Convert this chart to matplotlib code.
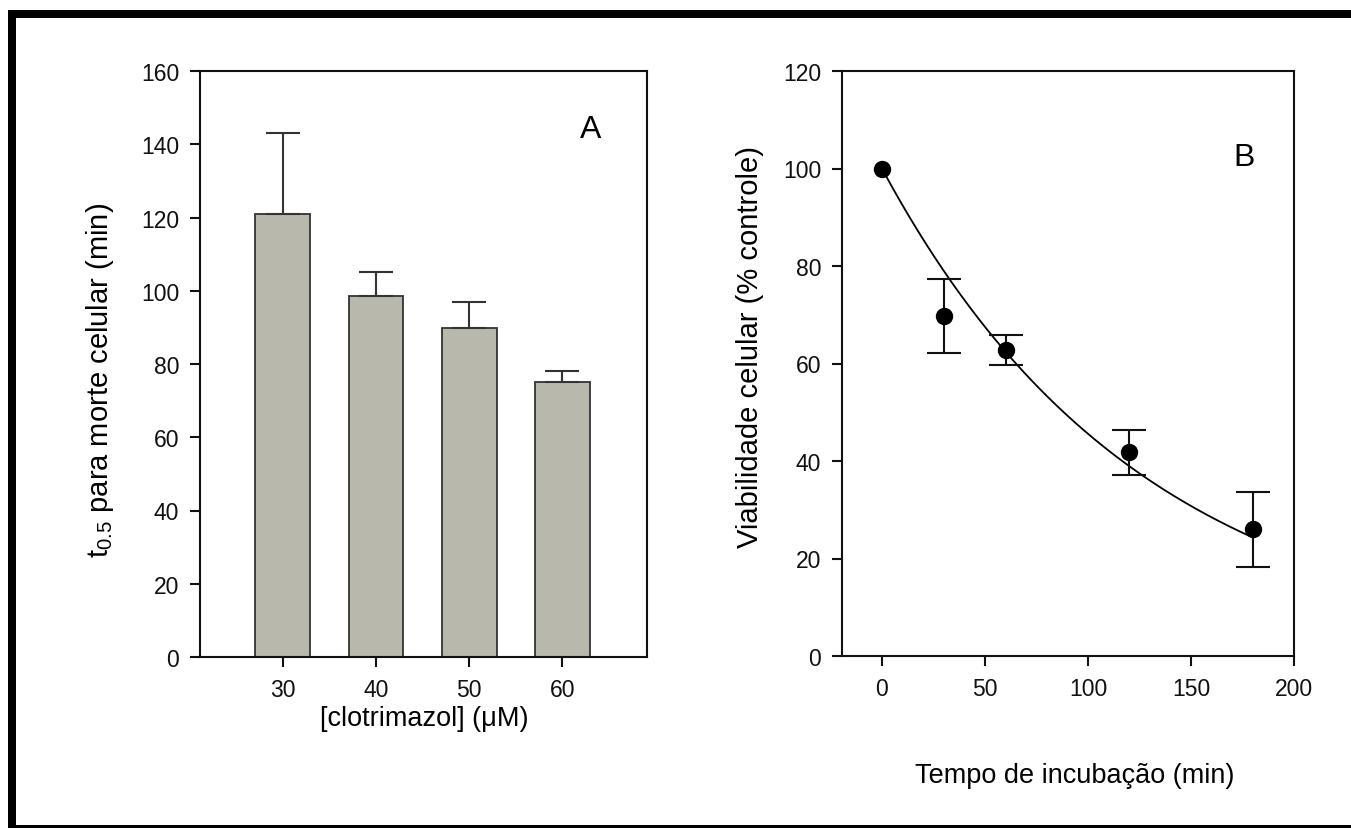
import numpy as np
import matplotlib
matplotlib.use("Agg")
import matplotlib.pyplot as plt
from matplotlib.patches import Rectangle

plt.rcParams['font.family'] = ['Liberation Sans', 'DejaVu Sans']
plt.rcParams['mathtext.default'] = 'regular'

# Panel A data
conc = [30, 40, 50, 60]
t_half = [121.0, 98.5, 89.7, 75.0]
t_half_err = [22.0, 6.5, 7.3, 3.0]

# Panel B data
tempo = [0, 30, 60, 120, 180]
viab = [100.0, 69.7, 62.8, 41.8, 26.0]
viab_err = [0.0, 7.6, 3.1, 4.6, 7.7]

W, H = 1351, 829
fig = plt.figure(figsize=(W / 100, H / 100), dpi=100)
fig.patch.set_facecolor('white')

def fx(px):
    return px / W

def fy(py):
    return 1 - py / H

# frame
for (x0, y0, x1, y1) in [(8, 11, W, 19), (8, 11, 16, H), (8, 826, W, H)]:
    fig.add_artist(Rectangle((fx(x0), fy(y1)), fx(x1) - fx(x0), fy(y0) - fy(y1),
                             transform=fig.transFigure, facecolor='black',
                             edgecolor='none', zorder=10))

def style(ax):
    for s in ax.spines.values():
        s.set_linewidth(1.5)
        s.set_color('#111111')
    ax.tick_params(direction='out', length=7, width=1.5, labelsize=16.5,
                   colors='#111111', pad=8)

# Panel A
axA = fig.add_axes([fx(200), fy(658), fx(647) - fx(200), fy(72) - fy(658)])
axA.bar(conc, t_half, width=5.9, color='#b8b8ac', edgecolor='#333333',
        linewidth=1.3, zorder=2)
axA.errorbar(conc, t_half, yerr=[np.zeros(len(conc)), t_half_err], fmt='none',
             ecolor='#333333', elinewidth=1.5, capsize=12.5, capthick=1.5, zorder=3)
axA.set_xlim(21.1, 69.1)
axA.set_ylim(0, 160)
axA.set_xticks(conc)
axA.set_yticks(np.arange(0, 161, 20))
style(axA)

# Panel B
axB = fig.add_axes([fx(842), fy(657), fx(1294) - fx(842), fy(72) - fy(657)])
t = np.array(tempo, dtype=float)
y = np.array(viab, dtype=float)
e = np.array(viab_err, dtype=float)
ks = np.linspace(0.001, 0.03, 5000)
sse = [np.sum((y - y[0] * np.exp(-k * t)) ** 2) for k in ks]
kbest = ks[int(np.argmin(sse))]
tt = np.linspace(t.min(), t.max(), 300)
axB.plot(tt, y[0] * np.exp(-kbest * tt), color='black', lw=1.3, zorder=2)
m = e > 0
axB.errorbar(t[m], y[m], yerr=e[m], fmt='none',
             ecolor='#111111', elinewidth=1.5, capsize=12, capthick=1.5, zorder=3)
axB.plot(t, y, 'o', color='black', ms=11.5, zorder=4)
axB.set_xlim(-19.4, 200)
axB.set_ylim(0, 120)
axB.set_xticks(np.arange(0, 201, 50))
axB.set_yticks(np.arange(0, 121, 20))
style(axB)

# labels
fig.text(fx(424), fy(719), '[clotrimazol] (μM)', ha='center', va='center', fontsize=19.5)
fig.text(fx(1075), fy(776), 'Tempo de incubação (min)', ha='center', va='center', fontsize=19.5)
fig.text(fx(100), fy(380), 't$_{0.5}$ para morte celular (min)', ha='center', va='center',
         rotation=90, fontsize=21)
fig.text(fx(750), fy(347), 'Viabilidade celular (% controle)', ha='center', va='center',
         rotation=90, fontsize=21)
fig.text(fx(591), fy(130), 'A', ha='center', va='center', fontsize=23)
fig.text(fx(1244), fy(158), 'B', ha='center', va='center', fontsize=23)

fig.savefig('out.png', dpi=100, facecolor='white')
